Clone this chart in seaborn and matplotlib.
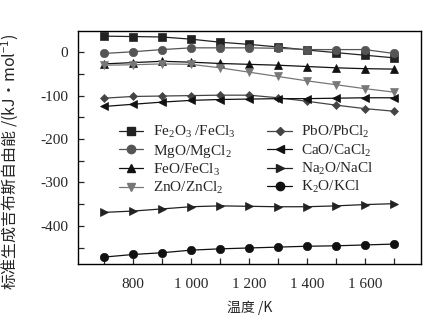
import pandas as pd
import matplotlib
matplotlib.use('Agg')
import matplotlib.pyplot as plt
import seaborn as sns

# temperatures (K)
temps = [700, 800, 900, 1000, 1100, 1200, 1300, 1400, 1500, 1600, 1700]

# standard Gibbs free energy of formation, kJ/mol
fe2o3 = [37, 36, 35, 30, 23, 18, 12, 5, -1, -7, -13]
mgo = [-3, 1, 6, 10, 10, 10, 9, 6, 6, 6, -3]
feo = [-27, -24, -21, -23, -26, -28, -30, -33, -36, -38, -39]
zno = [-30, -29, -27, -28, -36, -46, -56, -66, -75, -84, -92]
pbo = [-106, -102, -101, -100, -99, -99, -105, -113, -122, -130, -136]
cao = [-125, -120, -115, -111, -109, -108, -107, -107, -106, -105, -105]
na2o = [-369, -366, -361, -356, -354, -355, -356, -356, -354, -351, -349]
k2o = [-472, -466, -462, -456, -453, -451, -449, -447, -446, -444, -442]

labels = [r'Fe$_2$O$_3$ /FeCl$_3$', r'MgO/MgCl$_2$', r'FeO/FeCl$_3$', r'ZnO/ZnCl$_2$',
          r'PbO/PbCl$_2$', r'CaO/CaCl$_2$', r'Na$_2$O/NaCl', r'K$_2$O/KCl']
series = [fe2o3, mgo, feo, zno, pbo, cao, na2o, k2o]
markers = ['s', 'o', '^', 'v', 'D', '<', '>', 'o']
colors = ['#222222', '#555555', '#111111', '#777777', '#444444', '#111111', '#222222', '#111111']

xticks = [800, 1000, 1200, 1400, 1600]
xtick_labels = ['800', '1 000', '1 200', '1 400', '1 600']
yticks = [0, -100, -200, -300, -400]

rows = []
for lab, vals in zip(labels, series):
    for t, v in zip(temps, vals):
        rows.append({'T': t, 'G': v, 'sys': lab})
df = pd.DataFrame(rows)

sns.set_style('ticks')
plt.rcParams['font.family'] = ['Liberation Serif', 'Noto Sans CJK SC']
plt.rcParams['mathtext.fontset'] = 'custom'
plt.rcParams['mathtext.rm'] = 'Liberation Serif'
plt.rcParams['mathtext.it'] = 'Liberation Serif:italic'
plt.rcParams['mathtext.default'] = 'regular'
plt.rcParams['axes.unicode_minus'] = False

fig = plt.figure(figsize=(4.35, 3.22), dpi=100)
ax = fig.add_axes([0.179, 0.18, 0.788, 0.724])

sns.lineplot(data=df, x='T', y='G', hue='sys', style='sys', hue_order=labels, style_order=labels,
             palette=dict(zip(labels, colors)), markers=dict(zip(labels, markers)), dashes=False,
             linewidth=0.9, markersize=6, ax=ax, legend=False)

for line, m in zip(ax.lines, markers):
    line.set_markeredgecolor(line.get_color())
    line.set_markeredgewidth(0.5)
    if m == 'D':
        line.set_markersize(4.5)

ax.set_xlim(610, 1792)
ax.set_ylim(-488, 49)
ax.set_xticks(xticks)
ax.set_xticklabels(xtick_labels)
ax.set_xticks(range(700, 1800, 200), minor=True)
ax.set_yticks(yticks)
ax.set_yticks(range(-450, 50, 100), minor=True)
ax.tick_params(which='both', direction='in', labelsize=11, width=0.9)
ax.tick_params(which='major', length=4)
ax.tick_params(which='minor', length=4)
ax.tick_params(axis='x', pad=10)
ax.tick_params(axis='y', pad=7)
for s in ax.spines.values():
    s.set_linewidth(1.0)
    s.set_color('black')

cjk = ['Noto Sans CJK SC', 'DejaVu Sans']
ax.set_xlabel('温度 /K', fontsize=10, family=cjk, labelpad=7)
ax.set_ylabel('标准生成吉布斯自由能 /(kJ·mol$^{-1}$)', fontsize=11.5, family=cjk)
ax.yaxis.set_label_coords(-0.165, 0.44)

handles = [plt.Line2D([], [], color=c, marker=m, markersize=(4.5 if m == 'D' else 6),
                      markeredgecolor=c, linewidth=0.9) for c, m in zip(colors, markers)]
ax.legend(handles, labels, ncol=2, loc='upper left', bbox_to_anchor=(0.12, 0.60),
          frameon=False, fontsize=11, borderpad=0, borderaxespad=0, labelspacing=0.15,
          handlelength=1.6, handletextpad=0.6, columnspacing=2.1)

fig.savefig('out.png', dpi=100)
